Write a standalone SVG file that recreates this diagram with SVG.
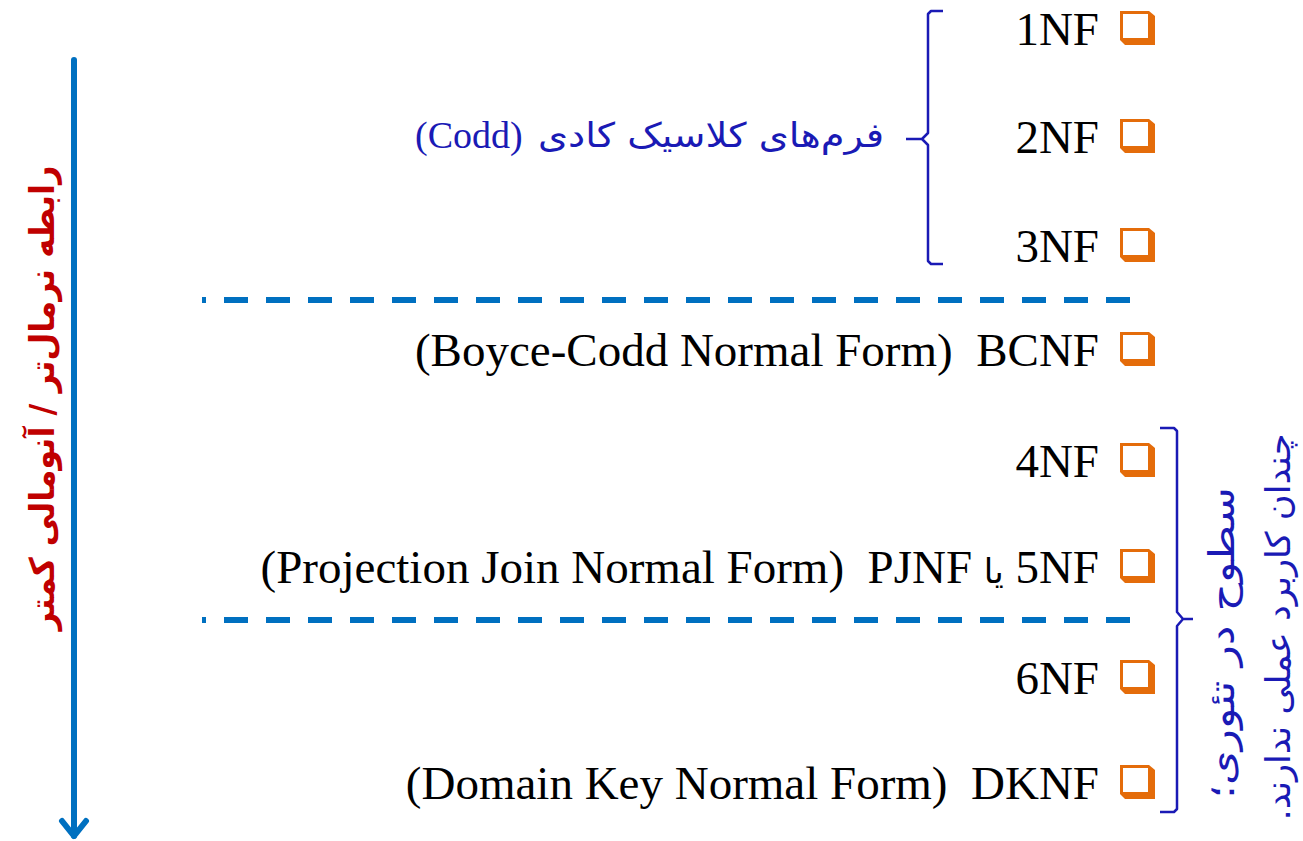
<svg xmlns="http://www.w3.org/2000/svg" width="1303" height="841" viewBox="0 0 1303 841">
<style>
.nf{font-family:"Liberation Serif","DejaVu Sans",serif;font-size:47px;fill:#000;text-anchor:end}
.fa{font-family:"DejaVu Sans",sans-serif}
.blue{fill:#1A1AB5}
.brace{fill:none;stroke:#1A1AB5;stroke-width:2.5;stroke-linejoin:round}
.dash{stroke:#0070C0;stroke-width:6;stroke-dasharray:24 18;stroke-dashoffset:20}
.arrow{fill:none;stroke:#0070C0;stroke-width:6;stroke-linecap:round;stroke-linejoin:round}
</style>
<defs>
<g id="bul">
<path d="M0,0 H29 L35,5 V34 H5 L0,29 Z" fill="#E46C0A"/>
<rect x="3" y="3" width="25" height="24" fill="#fff"/>
</g>
</defs>
<rect width="1303" height="841" fill="#fff"/>

<g id="connectors">
<line class="arrow" x1="74" y1="60" x2="74" y2="836"/>
<polyline class="arrow" points="62,821 74,836 86,821"/>
<line class="dash" x1="202" y1="300" x2="1132" y2="300"/>
<line class="dash" x1="202" y1="620" x2="1132" y2="620"/>
<path class="brace" d="M943,11 L931,11 L928,14 L928,133 L922,139 L906,139 M922,139 L928,145 L928,261 L931,264 L943,264"/>
<path class="brace" d="M1160,428 L1174,428 L1177,431 L1177,612 L1183,619 L1193,619 M1183,619 L1177,626 L1177,809 L1174,812 L1160,812"/>
</g>

<g id="n1nf"><use href="#bul" x="1120" y="11"/><text class="nf" x="1099" y="45">1NF</text></g>
<g id="n2nf"><use href="#bul" x="1120" y="119"/><text class="nf" x="1099" y="153">2NF</text></g>
<g id="n3nf"><use href="#bul" x="1120" y="228"/><text class="nf" x="1099" y="262">3NF</text></g>
<g id="nbcnf"><use href="#bul" x="1120" y="332"/><text class="nf" x="1099" y="366" xml:space="preserve">(Boyce-Codd Normal Form)  BCNF</text></g>
<g id="n4nf"><use href="#bul" x="1120" y="443"/><text class="nf" x="1099" y="477">4NF</text></g>
<g id="n5nf"><use href="#bul" x="1120" y="549"/><text class="nf" x="1099" y="583" xml:space="preserve">(Projection Join Normal Form)  PJNF &#x200E;<tspan class="fa" font-size="34">یا</tspan>&#x200E; 5NF</text></g>
<g id="n6nf"><use href="#bul" x="1120" y="660"/><text class="nf" x="1099" y="694">6NF</text></g>
<g id="ndknf"><use href="#bul" x="1120" y="765"/><text class="nf" x="1099" y="799" xml:space="preserve">(Domain Key Normal Form)  DKNF</text></g>

<g id="codd">
<text class="blue" x="415" y="148" style="font-family:'Liberation Serif',serif;font-size:38px">(Codd)</text>
<text class="blue fa" x="884" y="147" font-size="34" direction="rtl" text-anchor="start" textLength="346" lengthAdjust="spacingAndGlyphs">فرم‌های کلاسیک کادی</text>
</g>

<g id="left-label">
<text transform="translate(54,398) rotate(-90)" class="fa" font-size="34" font-weight="bold" fill="#C00000" text-anchor="middle" direction="rtl" textLength="465" lengthAdjust="spacingAndGlyphs">رابطه نرمال‌تر / آنومالی کمتر</text>
</g>

<g id="right-label">
<text transform="translate(1234,643) rotate(-90)" class="fa blue" font-size="36" text-anchor="middle" direction="rtl" textLength="312" lengthAdjust="spacingAndGlyphs">سطوح در تئوری؛</text>
<text transform="translate(1290,627) rotate(-90)" class="fa blue" font-size="34" text-anchor="middle" direction="rtl" textLength="387" lengthAdjust="spacingAndGlyphs">چندان کاربرد عملی ندارند.</text>
</g>
</svg>
